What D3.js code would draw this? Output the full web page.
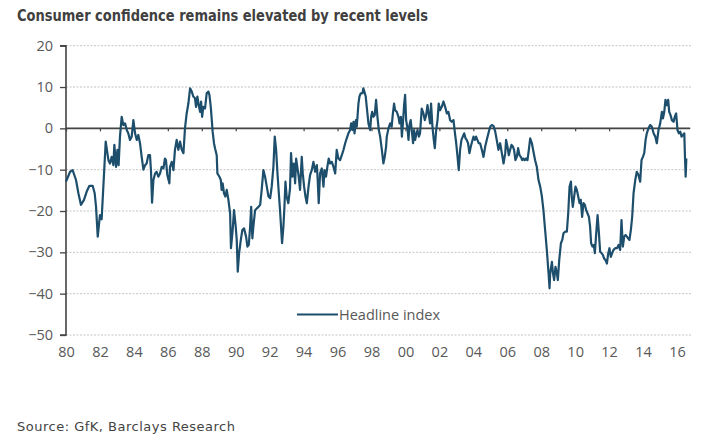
<!DOCTYPE html>
<html><head><meta charset="utf-8">
<script src="https://cdn.jsdelivr.net/npm/d3@7"></script>
<style>body{margin:0;background:#fff}svg{display:block}</style>
</head><body>
<svg id="c" width="720" height="447"></svg>
<script>
const title = "Consumer confidence remains elevated by recent levels";
const source = "Source: GfK, Barclays Research";
const seriesName = "Headline index";
const yTicks = [20, 10, 0, -10, -20, -30, -40, -50];
const xTicks = [1980,1982,1984,1986,1988,1990,1992,1994,1996,1998,2000,2002,2004,2006,2008,2010,2012,2014,2016];
const dates = [
1980.00,1980.24,1980.39,1980.59,1980.73,1980.88,1981.06,1981.22,1981.38,1981.57,1981.69,1981.77,1981.87,1982.00,1982.10,1982.34,1982.50,1982.59,1982.69,1982.79,1982.85,1982.95,1983.03,1983.10,1983.18,1983.28,1983.38,1983.48,1983.58,1983.67,1983.77,1983.87,1983.97,1984.07,1984.17,1984.26,1984.36,1984.46,1984.56,1984.66,1984.75,1984.85,1984.95,1985.01,1985.07,1985.15,1985.25,1985.34,1985.44,1985.54,1985.64,1985.74,1985.83,1985.89,1985.97,1986.09,1986.13,1986.23,1986.33,1986.42,1986.52,1986.62,1986.72,1986.82,1986.92,1987.01,1987.11,1987.21,1987.31,1987.41,1987.50,1987.60,1987.66,1987.74,1987.82,1987.90,1987.96,1988.02,1988.09,1988.19,1988.29,1988.39,1988.45,1988.53,1988.59,1988.64,1988.72,1988.78,1988.88,1988.92,1989.04,1989.12,1989.17,1989.23,1989.31,1989.39,1989.47,1989.57,
1989.67,1989.72,1989.82,1989.90,1990.00,1990.06,1990.12,1990.20,1990.30,1990.39,1990.49,1990.61,1990.69,1990.77,1990.85,1990.91,1990.98,1991.04,1991.14,1991.24,1991.34,1991.44,1991.53,1991.63,1991.73,1991.83,1991.93,1992.03,1992.12,1992.22,1992.30,1992.38,1992.46,1992.54,1992.61,1992.67,1992.73,1992.81,1992.87,1992.93,1993.00,1993.10,1993.20,1993.26,1993.34,1993.42,1993.50,1993.56,1993.64,1993.71,1993.79,1993.89,1993.95,1994.03,1994.11,1994.19,1994.29,1994.38,1994.48,1994.58,1994.68,1994.78,1994.83,1994.89,1994.97,1995.07,1995.17,1995.23,1995.32,1995.40,1995.48,1995.56,1995.66,1995.76,1995.86,1995.95,1996.05,1996.15,1996.25,1996.35,1996.45,1996.54,1996.64,1996.74,1996.80,1996.88,1996.94,1997.00,1997.08,1997.13,1997.19,1997.23,1997.29,1997.37,1997.47,1997.52,1997.58,1997.66,1997.72,1997.82,1997.92,1997.98,1998.04,1998.11,1998.19,1998.27,1998.35,1998.43,1998.51,1998.61,1998.70,1998.78,1998.86,
1998.90,1999.00,1999.10,1999.19,1999.25,1999.33,1999.39,1999.49,1999.59,1999.65,1999.73,1999.79,1999.85,1999.92,1999.98,2000.04,2000.12,2000.18,2000.24,2000.31,2000.37,2000.45,2000.51,2000.57,2000.63,2000.71,2000.79,2000.86,2000.96,2001.06,2001.14,2001.22,2001.30,2001.38,2001.45,2001.51,2001.59,2001.67,2001.73,2001.81,2001.89,2001.96,2002.04,2002.14,2002.24,2002.34,2002.44,2002.53,2002.63,2002.73,2002.83,2002.93,2002.99,2003.07,2003.14,2003.22,2003.30,2003.38,2003.46,2003.54,2003.61,2003.69,2003.77,2003.85,2003.93,2004.01,2004.09,2004.16,2004.24,2004.32,2004.40,2004.50,2004.60,2004.70,2004.79,2004.89,2004.99,2005.09,2005.19,2005.29,2005.38,2005.48,2005.58,2005.68,2005.78,2005.88,2005.93,2006.01,2006.09,2006.17,2006.25,2006.33,2006.40,2006.48,2006.56,2006.64,2006.72,2006.80,2006.88,2006.95,2007.03,2007.11,2007.19,2007.27,2007.35,2007.45,2007.54,2007.64,2007.74,2007.84,2007.94,2008.04,2008.13,2008.23,2008.33,2008.43,2008.49,
2008.53,2008.63,2008.69,2008.76,2008.84,2008.92,2008.98,2009.06,2009.16,2009.24,2009.31,2009.41,2009.51,2009.59,2009.67,2009.75,2009.80,2009.86,2009.94,2010.02,2010.10,2010.18,2010.26,2010.33,2010.41,2010.49,2010.57,2010.65,2010.73,2010.81,2010.88,2010.94,2011.02,2011.10,2011.16,2011.24,2011.32,2011.40,2011.47,2011.55,2011.63,2011.71,2011.79,2011.87,2011.95,2012.02,2012.10,2012.18,2012.26,2012.36,2012.46,2012.56,2012.65,2012.73,2012.81,2012.89,2012.97,2013.05,2013.12,2013.20,2013.28,2013.36,2013.44,2013.54,2013.63,2013.73,2013.83,2013.91,2013.99,2014.07,2014.15,2014.22,2014.32,2014.42,2014.52,2014.62,2014.72,2014.81,2014.91,2015.01,2015.11,2015.17,2015.25,2015.32,2015.40,2015.48,2015.54,2015.62,2015.70,2015.80,2015.87,2015.95,2016.03,2016.11,2016.19,2016.27,2016.35,2016.43,2016.47,2016.51,2016.55
];
const values = [
-12.9,-10.5,-10.1,-12.5,-15.7,-18.5,-17.3,-15.3,-13.9,-13.9,-15.7,-19.0,-26.2,-21.0,-22.0,-3.2,-7.7,-8.5,-6.9,-8.9,-4.0,-9.3,-5.2,-8.9,-2.0,2.8,0.8,1.2,-0.4,-1.2,-2.8,-2.0,2.0,-1.2,-2.8,-1.6,-3.6,-6.9,-10.0,-8.9,-8.5,-6.5,-6.5,-10.5,-18.0,-12.5,-10.9,-10.5,-11.7,-10.9,-9.3,-9.7,-7.3,-7.7,-11.3,-13.3,-9.3,-8.1,-10.1,-5.2,-2.8,-5.2,-3.2,-5.2,-6.0,0.0,3.6,6.0,9.7,8.9,7.7,7.3,5.2,7.7,5.6,4.0,6.5,2.8,5.2,4.8,8.5,8.9,8.1,5.2,2.0,-0.8,-3.6,-4.8,-6.5,-10.9,-11.7,-12.5,-14.9,-13.3,-15.7,-16.5,-14.9,-17.3,
-20.6,-29.0,-24.6,-19.8,-23.8,-27.0,-34.7,-30.2,-27.0,-24.6,-24.2,-26.2,-28.6,-28.2,-23.8,-19.0,-26.6,-23.8,-19.8,-19.4,-19.0,-18.5,-14.9,-10.1,-11.7,-14.1,-16.5,-16.9,-14.1,-9.3,-2.0,-5.2,-10.9,-15.7,-19.8,-23.8,-27.8,-23.8,-19.0,-12.9,-16.5,-18.1,-14.5,-6.0,-11.7,-8.5,-13.3,-7.3,-9.7,-11.7,-14.9,-6.9,-10.9,-14.1,-16.5,-18.1,-14.1,-11.3,-10.1,-8.1,-10.5,-8.9,-12.5,-18.1,-10.9,-9.7,-14.1,-10.1,-11.7,-9.3,-7.3,-8.5,-8.1,-9.3,-10.9,-5.2,-7.3,-7.7,-6.5,-5.2,-3.6,-2.4,-1.2,-0.4,1.2,-0.4,1.6,-1.2,2.0,0.4,3.6,6.0,7.7,8.5,8.5,9.7,8.9,7.7,5.2,1.2,-0.4,2.8,4.0,2.8,3.2,6.9,2.8,-0.4,-2.0,-5.2,-8.5,-6.9,-4.4,
-2.0,0.0,1.2,0.4,3.2,6.0,4.4,4.0,2.8,1.2,2.8,-2.0,1.2,5.6,8.1,2.0,0.0,-2.8,0.8,2.0,-0.4,-3.6,-0.4,-2.8,-1.6,-0.4,-2.0,-1.2,4.8,3.6,2.0,3.2,5.6,3.2,1.2,6.0,0.4,-2.8,-4.8,-0.4,2.0,6.0,4.4,5.2,6.5,5.2,3.6,4.0,2.0,1.6,2.0,-1.6,-3.6,-6.9,-10.1,-5.2,-2.8,-2.0,-1.2,-2.4,-2.8,-3.6,-6.0,-4.4,-3.2,-2.0,-2.8,-2.0,-2.8,-3.6,-3.6,-5.2,-6.9,-4.4,-2.8,-1.2,0.4,0.8,0.6,-0.8,-2.8,-5.2,-3.6,-6.0,-8.5,-6.0,-2.8,-4.4,-6.5,-5.2,-4.0,-4.4,-5.2,-7.7,-6.9,-4.8,-6.5,-6.9,-7.7,-7.3,-7.7,-7.3,-7.7,-5.2,-2.4,-3.6,-5.6,-7.7,-9.3,-12.5,-14.1,-16.5,-19.8,-24.6,-29.4,-35.0,-38.7,
-35.0,-32.3,-35.0,-36.7,-33.5,-35.0,-36.7,-31.9,-27.8,-27.0,-25.4,-25.0,-25.0,-20.6,-14.1,-12.9,-16.5,-19.0,-16.5,-14.1,-14.9,-16.5,-18.1,-17.3,-21.4,-18.1,-18.5,-19.8,-20.6,-21.4,-23.8,-27.8,-28.6,-28.2,-30.2,-25.4,-21.0,-25.4,-29.8,-30.2,-30.6,-31.5,-31.9,-32.7,-30.2,-29.0,-31.1,-30.2,-29.4,-29.0,-29.0,-28.2,-29.4,-22.2,-28.6,-26.2,-25.8,-26.2,-26.6,-27.0,-24.6,-21.4,-15.7,-12.5,-10.5,-11.3,-12.9,-7.7,-6.9,-6.0,-2.8,-1.2,0.0,0.8,0.4,-1.2,-2.0,-3.6,-0.4,1.2,4.0,2.4,4.0,6.9,5.6,6.9,4.0,3.2,2.0,1.6,2.8,3.6,-0.4,-1.2,-0.8,-2.0,-1.6,-1.2,-6.9,-11.7,-7.3
];

const svg = d3.select("#c");
const x = d3.scaleLinear().domain([1980, 2016]).range([66, 677]);
const y = d3.scaleLinear().domain([-50, 20]).range([335, 45.7]);
const xEnd = 692;
const axisFont = "'Open Sans', sans-serif";

// title
svg.append("text").attr("x", 17).attr("y", 20.7)
  .attr("font-family", "'DejaVu Sans Condensed','DejaVu Sans',sans-serif")
  .attr("font-weight", "bold").attr("font-size", 15.5).attr("fill", "#404040")
  .attr("textLength", 411).attr("lengthAdjust", "spacingAndGlyphs")
  .text(title);

// gridlines
svg.append("g").selectAll("line").data(yTicks).join("line")
  .attr("x1", x(1980)).attr("x2", xEnd)
  .attr("y1", d => y(d)).attr("y2", d => y(d))
  .attr("stroke", "#c4c4c4").attr("stroke-width", 1).attr("stroke-dasharray", "2,1.5");

// y axis
const ya = svg.append("g").attr("transform", `translate(${x(1980)},0)`)
  .call(d3.axisLeft(y).tickValues(yTicks).tickSize(6).tickPadding(7).tickFormat(d3.format("d")));
ya.select(".domain").attr("stroke", "#444").attr("stroke-width", 1.6).attr("d", `M-6,${y(20)}H0V${y(-50)}H-6`);
ya.selectAll(".tick line").attr("stroke", "#444").attr("stroke-width", 1.3);
ya.selectAll("text").attr("font-family", axisFont).attr("font-size", 14.5).attr("fill", "#595959");

// zero axis with ticks
const za = svg.append("g").attr("transform", `translate(0,${y(0)})`)
  .call(d3.axisBottom(x).tickValues(xTicks).tickSize(3).tickFormat(""));
za.select(".domain").attr("stroke", "#444").attr("stroke-width", 1.6).attr("d", `M${x(1980)},0H${xEnd - 2}`);
za.selectAll(".tick line").attr("stroke", "#444").attr("stroke-width", 1.2);

// bottom labels
const xa = svg.append("g").attr("transform", `translate(0,${y(-50)})`)
  .call(d3.axisBottom(x).tickValues(xTicks).tickSize(0).tickPadding(12)
    .tickFormat(d => String(d % 100).padStart(2, "0")));
xa.select(".domain").remove();
xa.selectAll("text").attr("font-family", axisFont).attr("font-size", 14.5).attr("fill", "#595959");

// line
const pts = dates.map((d, i) => [d, values[i]]);
svg.append("path").datum(pts)
  .attr("d", d3.line().x(d => x(d[0])).y(d => y(d[1])))
  .attr("fill", "none").attr("stroke", "#1d4e6c").attr("stroke-width", 2.2)
  .attr("stroke-linejoin", "round");

// legend
svg.append("line").attr("x1", 297).attr("x2", 338).attr("y1", 314.5).attr("y2", 314.5)
  .attr("stroke", "#1d4e6c").attr("stroke-width", 2.2);
svg.append("text").attr("x", 339).attr("y", 319.5)
  .attr("font-family", axisFont).attr("font-size", 14.5).attr("fill", "#595959")
  .text(seriesName);

// source
svg.append("text").attr("x", 17).attr("y", 430.7)
  .attr("font-family", "'DejaVu Sans',sans-serif").attr("font-size", 13).attr("fill", "#444")
  .attr("textLength", 218)
  .text(source);
</script>
</body></html>
